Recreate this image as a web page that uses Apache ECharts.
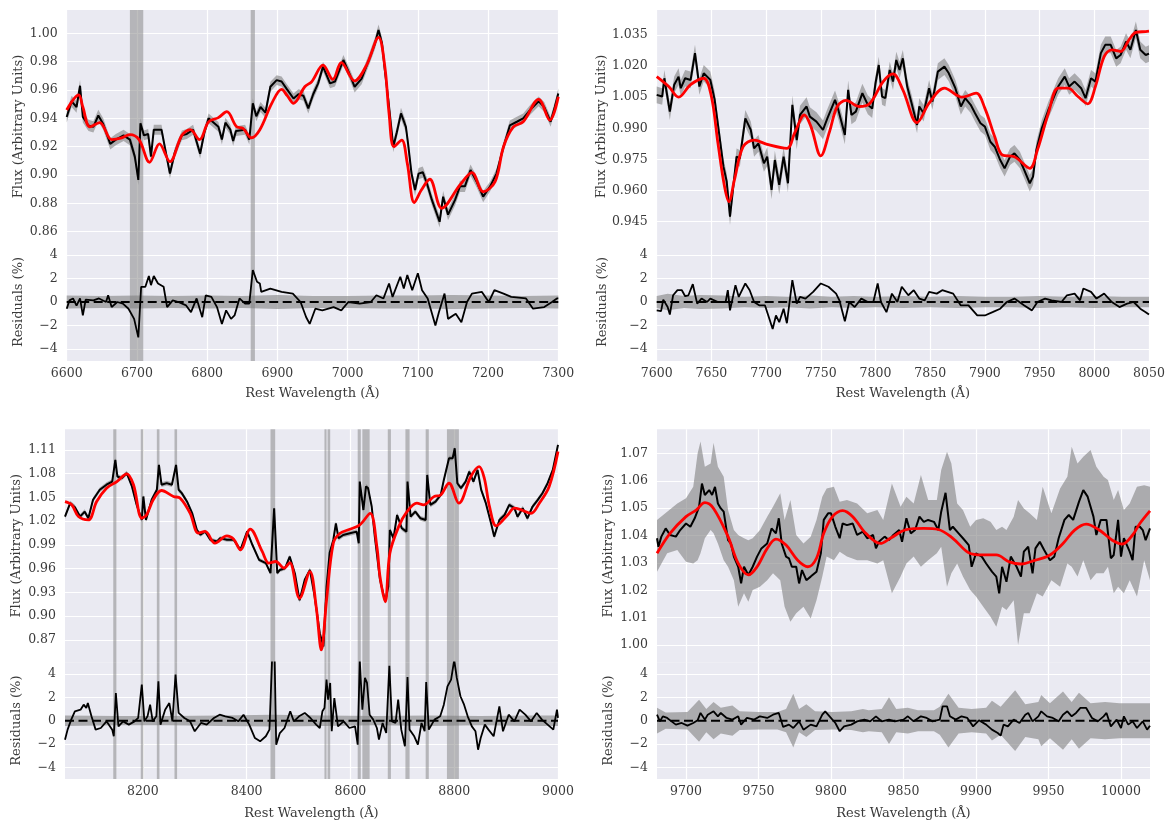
<!DOCTYPE html>
<html><head><meta charset="utf-8">
<script src="https://cdn.jsdelivr.net/npm/echarts@6/dist/echarts.min.js"></script>
<style>html,body{margin:0;padding:0;background:#fff;}#c{width:1174px;height:831px;}</style>
</head><body><div id="c"></div>
<script>
// ---------------- DATA ----------------
// Panel 1 (6600-7300)
const spec1 = [[6600,0.941],[6607,0.952],[6614,0.948],[6619,0.963],[6623,0.941],[6631,0.935],[6638,0.934],[6645,0.942],[6652,0.936],[6662,0.922],[6670,0.925],[6681,0.928],[6690,0.925],[6697,0.913],[6702,0.8965],[6705,0.9365],[6710,0.928],[6716,0.929],[6720,0.913],[6724,0.932],[6735,0.932],[6740,0.919],[6747,0.901],[6754,0.916],[6764,0.928],[6771,0.929],[6780,0.932],[6790,0.915],[6796,0.930],[6802,0.940],[6809,0.937],[6816,0.934],[6821,0.925],[6826,0.937],[6833,0.932],[6837,0.924],[6841,0.931],[6854,0.932],[6860,0.925],[6865,0.9506],[6870,0.9415],[6876,0.948],[6883,0.944],[6890,0.9623],[6899,0.967],[6906,0.966],[6913,0.961],[6923,0.954],[6930,0.957],[6937,0.956],[6944,0.947],[6951,0.957],[6958,0.9647],[6965,0.9765],[6975,0.9647],[6982,0.966],[6994,0.9812],[7003,0.971],[7010,0.9623],[7020,0.968],[7032,0.9835],[7039,0.993],[7044,1.0023],[7049,0.993],[7053,0.974],[7058,0.953],[7065,0.920],[7070,0.930],[7076,0.9435],[7083,0.934],[7086,0.9225],[7091,0.901],[7096,0.8894],[7101,0.901],[7107,0.902],[7113,0.894],[7120,0.8824],[7131,0.867],[7136,0.8847],[7143,0.872],[7153,0.8824],[7160,0.892],[7167,0.892],[7175,0.9035],[7184,0.895],[7193,0.8847],[7203,0.892],[7212,0.901],[7222,0.920],[7231,0.935],[7241,0.9376],[7250,0.940],[7260,0.946],[7272,0.952],[7280,0.948],[7289,0.9376],[7295,0.948],[7300,0.9576]];
const model1 = [[6600,0.9459],[6617,0.9565],[6623,0.948],[6633,0.934],[6647,0.937],[6664,0.925],[6677,0.926],[6690,0.9285],[6703,0.925],[6718,0.909],[6732,0.922],[6747,0.9095],[6764,0.928],[6776,0.932],[6789,0.925],[6802,0.9375],[6816,0.9405],[6828,0.9447],[6842,0.934],[6851,0.933],[6863,0.9263],[6875,0.932],[6892,0.9506],[6906,0.9605],[6914,0.956],[6923,0.9506],[6939,0.9623],[6949,0.966],[6965,0.9776],[6979,0.9675],[6991,0.9793],[7010,0.9665],[7027,0.9776],[7044,0.9972],[7053,0.9765],[7059,0.9435],[7066,0.920],[7077,0.9247],[7085,0.9082],[7095,0.8805],[7105,0.8894],[7117,0.897],[7134,0.8765],[7160,0.893],[7177,0.9017],[7193,0.8882],[7210,0.8953],[7222,0.920],[7236,0.934],[7250,0.9376],[7272,0.9534],[7288,0.9388],[7300,0.9553]];
const err1 = [[6600,0.004],[6700,0.0035],[6800,0.0035],[6900,0.0035],[7000,0.004],[7100,0.004],[7200,0.0035]];
const res1 = [[6600,-0.57],[6604,0.14],[6609,0.3],[6614,-0.3],[6619,0.3],[6623,-1.14],[6627,0.2],[6638,0.14],[6646,0.3],[6656,0],[6659,0.57],[6664,-0.43],[6672,0],[6680,-0.14],[6688,-0.57],[6696,-1.43],[6702,-3.0],[6706,1.29],[6712,1.29],[6717,2.2],[6720,1.43],[6724,2.2],[6730,1.57],[6738,1.29],[6743,-0.43],[6751,0.14],[6759,0],[6770,-0.29],[6777,-0.86],[6785,0.3],[6793,-1.29],[6798,0.57],[6806,0.43],[6814,-0.43],[6821,-1.86],[6827,-0.71],[6834,-1.43],[6839,-1.14],[6846,0.3],[6854,-0.14],[6860,-0.14],[6865,2.71],[6871,1.71],[6875,1.57],[6877,0.86],[6890,1.14],[6906,0.86],[6922,0.71],[6933,0],[6941,-1.29],[6946,-1.86],[6954,-0.57],[6964,-0.71],[6980,-0.43],[6991,-0.71],[7001,0],[7017,-0.14],[7033,0],[7041,0.57],[7051,0.3],[7059,1.57],[7064,0.43],[7075,2.14],[7080,1.14],[7085,2.29],[7092,1.0],[7100,2.43],[7106,1.0],[7114,0.3],[7125,-2.0],[7130,-0.86],[7138,0.71],[7143,-1.43],[7154,-1.0],[7162,-1.71],[7170,0],[7177,0.71],[7191,0.86],[7201,0],[7209,1.0],[7222,0.71],[7233,0.43],[7254,0.3],[7264,-0.57],[7280,-0.43],[7291,0],[7298,0.3],[7300,0.3]];
const resBand1 = [[6600,0.55],[6650,0.5],[6700,0.55],[6750,0.5],[6800,0.55],[6850,0.5],[6900,0.6],[6950,0.5],[7000,0.5],[7050,0.55],[7100,0.55],[7150,0.6],[7200,0.55],[7250,0.5],[7300,0.55]];
const mask1 = [[6690,6709],[6862,6868]];
const xTicks1 = [6600,6700,6800,6900,7000,7100,7200,7300];
const yTicks1 = [0.86,0.88,0.90,0.92,0.94,0.96,0.98,1.00];

// Panel 2 (7600-8050)
const spec2 = [[7600,1.0061],[7605,1.0053],[7607,1.0141],[7612,0.998],[7616,1.011],[7620,1.0149],[7622,1.0093],[7626,1.0141],[7631,1.0133],[7635,1.0262],[7639,1.0101],[7643,1.0165],[7649,1.0133],[7653,1.0037],[7657,0.9876],[7661,0.9715],[7664,0.9643],[7667,0.9474],[7670,0.9619],[7673,0.9763],[7676,0.9755],[7681,0.9948],[7686,0.9892],[7689,0.9803],[7693,0.9827],[7698,0.9731],[7701,0.9763],[7705,0.9603],[7708,0.9747],[7712,0.9627],[7716,0.9763],[7720,0.9635],[7724,1.0013],[7728,0.9843],[7731,0.9964],[7737,1.0005],[7740,0.9956],[7746,0.9932],[7752,0.9892],[7756,0.9948],[7763,1.0037],[7766,0.9989],[7772,0.9868],[7775,1.0085],[7778,0.9964],[7782,0.998],[7788,1.0069],[7793,1.0013],[7797,0.9995],[7800,1.0117],[7803,1.0205],[7806,1.0053],[7809,1.0045],[7813,1.0181],[7816,1.0125],[7819,1.0229],[7822,1.0181],[7825,1.0237],[7829,1.0101],[7833,1.0021],[7838,0.9916],[7840,1.0005],[7844,0.9972],[7849,1.0093],[7852,1.0029],[7857,1.0173],[7863,1.0197],[7867,1.0165],[7873,1.0093],[7878,1.0005],[7882,1.0045],[7887,1.0013],[7891,0.9972],[7896,0.9924],[7900,0.9908],[7905,0.9835],[7909,0.9811],[7914,0.9747],[7918,0.9707],[7923,0.9763],[7927,0.9779],[7932,0.9747],[7936,0.9698],[7941,0.9635],[7944,0.9667],[7947,0.9795],[7952,0.99],[7958,0.9988],[7962,1.0037],[7967,1.0101],[7973,1.0149],[7977,1.0101],[7982,1.0125],[7988,1.0093],[7992,1.0045],[7997,1.0141],[8001,1.0125],[8006,1.0262],[8010,1.0302],[8015,1.0302],[8020,1.0237],[8024,1.0253],[8029,1.0318],[8033,1.0278],[8038,1.0374],[8042,1.0278],[8047,1.0253],[8050,1.026]];
const model2 = [[7600,1.0149],[7611,1.0101],[7620,1.005],[7631,1.011],[7643,1.0141],[7650,1.0053],[7656,0.9827],[7662,0.9619],[7666,0.9546],[7671,0.965],[7679,0.9811],[7689,0.9843],[7701,0.9822],[7719,0.9803],[7726,0.9876],[7735,0.9964],[7741,0.9908],[7750,0.9767],[7758,0.9884],[7765,1.0005],[7773,1.0034],[7785,1.0005],[7795,1.0021],[7807,1.0125],[7816,1.0162],[7825,1.0085],[7838,0.9927],[7849,1.0021],[7863,1.0093],[7879,1.005],[7892,1.0069],[7900,0.9996],[7909,0.9859],[7916,0.9771],[7927,0.9763],[7941,0.9707],[7948,0.9795],[7958,0.9972],[7967,1.0093],[7976,1.0093],[7985,1.0053],[7994,1.0018],[8001,1.0101],[8009,1.0245],[8016,1.0278],[8024,1.027],[8032,1.0329],[8038,1.0362],[8047,1.0366],[8050,1.0368]];
const err2 = [[7600,0.004],[7700,0.0045],[7800,0.004],[7900,0.004],[8000,0.004]];
const res2 = [[7600,-0.71],[7604,-0.77],[7606,0.2],[7610,-0.43],[7612,-1.06],[7615,0.57],[7619,1.0],[7623,1.0],[7626,0.49],[7629,0.57],[7633,1.51],[7637,-0.14],[7641,0.29],[7646,0],[7649,0.29],[7656,0],[7663,0],[7665,1.0],[7667,-0.71],[7672,1.43],[7675,0.43],[7681,1.57],[7685,1.0],[7689,0],[7694,-0.29],[7699,-0.29],[7702,-1.14],[7706,-2.29],[7709,-1.14],[7712,-1.71],[7716,-0.57],[7719,-1.8],[7724,1.86],[7728,-0.14],[7731,0.43],[7736,0.29],[7743,0.86],[7750,1.57],[7757,1.29],[7764,0.71],[7767,0.14],[7772,-1.63],[7776,0],[7781,-0.43],[7787,0.29],[7793,0],[7798,0],[7802,1.57],[7805,0],[7810,-0.86],[7815,0.71],[7820,0],[7824,1.29],[7830,0.57],[7835,1.0],[7840,0.29],[7845,0.14],[7849,0.86],[7856,0.71],[7861,1.0],[7866,0.86],[7871,0.71],[7878,-0.29],[7885,-0.29],[7893,-1.14],[7900,-1.14],[7907,-0.86],[7914,-0.57],[7920,0],[7927,0.29],[7936,-0.29],[7943,-0.71],[7948,0],[7955,0.29],[7961,0.14],[7970,0],[7975,0.57],[7982,0.71],[7987,0.14],[7990,1.14],[7997,0.86],[8002,0.29],[8009,0.71],[8016,0],[8023,-0.43],[8030,-0.14],[8036,0],[8042,-0.57],[8047,-0.86],[8050,-1.06]];
const resBand2 = [[7600,0.5],[7610,0.7],[7625,0.5],[7640,0.6],[7660,0.55],[7680,0.45],[7700,0.5],[7720,0.45],[7740,0.55],[7760,0.45],[7780,0.5],[7800,0.45],[7825,0.5],[7850,0.45],[7875,0.5],[7900,0.45],[7925,0.45],[7950,0.5],[7975,0.45],[8000,0.5],[8025,0.45],[8050,0.45]];
const xTicks2 = [7600,7650,7700,7750,7800,7850,7900,7950,8000,8050];
const yTicks2 = [0.945,0.960,0.975,0.990,1.005,1.020,1.035];

// Panel 3 (8050-9000)
const spec3 = [[8050,1.0258],[8060,1.0427],[8069,1.0377],[8079,1.0258],[8088,1.032],[8095,1.0237],[8104,1.047],[8117,1.0596],[8130,1.066],[8141,1.07],[8147,1.0974],[8151,1.0764],[8159,1.0743],[8169,1.0806],[8179,1.0638],[8188,1.0407],[8198,1.0216],[8201,1.0512],[8206,1.0216],[8217,1.047],[8227,1.0596],[8231,1.091],[8236,1.066],[8246,1.068],[8256,1.066],[8264,1.091],[8269,1.0596],[8275,1.0554],[8285,1.0449],[8295,1.0302],[8304,1.0091],[8311,1.0028],[8320,1.007],[8330,0.9965],[8343,0.9944],[8349,0.9986],[8362,0.9965],[8375,0.9965],[8388,0.9839],[8401,1.007],[8411,0.9902],[8424,0.9712],[8437,0.967],[8446,0.9544],[8453,1.0364],[8459,0.9544],[8464,0.9584],[8474,0.9605],[8483,0.9752],[8493,0.954],[8502,0.920],[8512,0.946],[8522,0.9584],[8531,0.925],[8541,0.8785],[8548,0.8617],[8554,0.9373],[8560,0.98],[8567,0.9963],[8572,1.0173],[8577,0.9984],[8586,1.0026],[8599,1.0047],[8612,1.0068],[8616,0.9921],[8618,1.07],[8625,1.0341],[8630,1.0638],[8634,1.0617],[8641,1.0385],[8647,1.0005],[8657,0.946],[8667,0.9184],[8673,0.9373],[8676,1.0089],[8683,0.9984],[8690,1.0278],[8699,1.011],[8708,1.0068],[8710,1.07],[8716,1.0257],[8725,1.032],[8735,1.0236],[8745,1.0215],[8748,1.0784],[8754,1.0405],[8764,1.0447],[8774,1.0531],[8780,1.0721],[8790,1.0995],[8797,1.0995],[8801,1.1121],[8806,1.0679],[8813,1.0617],[8822,1.07],[8829,1.0826],[8837,1.07],[8845,1.0847],[8852,1.0596],[8861,1.0427],[8871,1.0173],[8877,1.0005],[8887,1.0215],[8897,1.0278],[8906,1.0405],[8916,1.0364],[8922,1.0257],[8932,1.0364],[8941,1.0236],[8951,1.0385],[8961,1.0468],[8970,1.0552],[8980,1.0679],[8990,1.0847],[8996,1.1036],[9000,1.1163]];
const model3 = [[8050,1.0448],[8063,1.0407],[8076,1.0258],[8095,1.0216],[8111,1.0448],[8130,1.0617],[8150,1.07],[8169,1.0798],[8182,1.066],[8198,1.0237],[8207,1.0279],[8220,1.047],[8236,1.0587],[8259,1.0512],[8272,1.049],[8291,1.0302],[8307,1.0049],[8320,1.007],[8339,0.9923],[8362,1.0015],[8375,0.9973],[8388,0.9839],[8407,1.01],[8430,0.9818],[8443,0.967],[8456,0.9691],[8472,0.9607],[8483,0.9676],[8502,0.9226],[8522,0.9563],[8534,0.9121],[8544,0.8574],[8554,0.9205],[8567,0.9921],[8580,1.0047],[8599,1.0098],[8618,1.0152],[8638,1.0299],[8651,0.9879],[8657,0.95],[8667,0.9184],[8676,0.9795],[8693,1.0131],[8709,1.032],[8728,1.0427],[8741,1.0405],[8761,1.051],[8774,1.0531],[8790,1.0679],[8809,1.0427],[8832,1.0764],[8848,1.0889],[8858,1.0742],[8868,1.0385],[8881,1.014],[8903,1.0278],[8916,1.0364],[8929,1.0343],[8948,1.0299],[8964,1.0427],[8983,1.0638],[9000,1.108]];
const err3 = [[8050,0.003],[8300,0.0025],[8500,0.003],[8700,0.003],[8900,0.003]];
const res3 = [[8050,-1.63],[8055,-0.77],[8062,0.09],[8069,0.8],[8080,0.94],[8086,1.37],[8091,1.09],[8094,1.51],[8101,0.37],[8109,-0.77],[8119,-0.63],[8130,-0.06],[8141,-0.77],[8144,-1.34],[8148,2.37],[8153,-0.49],[8162,-0.06],[8173,-0.34],[8184,-0.06],[8191,0.23],[8198,3.09],[8203,-0.06],[8209,0.37],[8214,1.37],[8219,-0.06],[8226,0.37],[8230,3.37],[8234,-0.34],[8243,0.94],[8251,1.51],[8257,-0.06],[8263,3.94],[8269,0.66],[8280,0.23],[8291,-0.06],[8300,-0.91],[8312,-0.2],[8323,-0.34],[8337,0.23],[8348,0.51],[8359,0.37],[8373,0.23],[8384,-0.06],[8394,0.51],[8405,-0.34],[8416,-1.49],[8426,-1.77],[8437,-1.34],[8444,-0.77],[8449,5.2],[8454,5.2],[8457,-2.06],[8464,-1.06],[8473,-0.63],[8484,0.8],[8491,-0.06],[8501,0.37],[8512,0.66],[8523,0.23],[8534,-0.34],[8541,-0.63],[8546,0.8],[8550,1.09],[8554,3.51],[8557,1.8],[8561,3.23],[8564,-0.91],[8569,1.94],[8576,-0.49],[8587,-0.06],[8598,-0.63],[8609,-0.49],[8614,-2.06],[8618,5.2],[8623,0.94],[8628,3.66],[8632,3.23],[8637,0.51],[8644,0.09],[8651,-0.63],[8655,-1.63],[8662,-0.2],[8669,-1.06],[8675,4.71],[8680,-0.06],[8687,-0.2],[8692,1.8],[8698,-0.77],[8705,-2.2],[8710,3.74],[8714,-0.77],[8723,-1.34],[8730,-2.06],[8737,-0.2],[8743,-0.91],[8746,3.31],[8751,-0.77],[8762,0.09],[8773,0.37],[8780,1.37],[8787,2.94],[8794,3.51],[8800,5.2],[8805,3.66],[8812,2.09],[8819,1.37],[8826,0.37],[8834,-0.49],[8841,-0.91],[8846,-2.49],[8851,-1.49],[8859,-0.34],[8866,-0.77],[8876,-1.34],[8887,1.23],[8894,-0.91],[8905,0.51],[8916,-0.06],[8926,0.94],[8937,0.51],[8948,-0.06],[8959,0.66],[8969,0.09],[8980,-0.34],[8991,-0.77],[8998,0.94],[9000,0.23]];
const resBand3 = [[8050,0.45],[8150,0.4],[8250,0.4],[8350,0.45],[8450,0.5],[8550,0.45],[8650,0.4],[8750,0.45],[8850,0.4],[8950,0.45],[9000,0.45]];
const mask3 = [[8143,8149],[8196,8201],[8227,8232],[8261,8266],[8446,8455],[8550,8554],[8556,8561],[8614,8620],[8623,8637],[8672,8678],[8706,8714],[8745,8751],[8786,8809]];
const xTicks3 = [8200,8400,8600,8800,9000];
const yTicks3 = [0.87,0.90,0.93,0.96,0.99,1.02,1.05,1.08,1.11];

// Panel 4 (9680-10020)
const spec4 = [[9680,1.039],[9681,1.0359],[9683,1.0396],[9686,1.0426],[9689,1.0402],[9693,1.0396],[9696,1.042],[9700,1.0444],[9703,1.0432],[9706,1.0463],[9709,1.0505],[9711,1.059],[9713,1.0548],[9716,1.0566],[9718,1.0548],[9720,1.0578],[9722,1.0517],[9724,1.0499],[9726,1.0487],[9729,1.0383],[9731,1.0371],[9733,1.0323],[9736,1.0286],[9738,1.0225],[9740,1.0286],[9743,1.0256],[9746,1.0286],[9749,1.0323],[9752,1.0353],[9756,1.0371],[9759,1.0426],[9762,1.0408],[9764,1.0463],[9766,1.0371],[9769,1.0323],[9771,1.0317],[9773,1.0286],[9776,1.0286],[9778,1.0225],[9780,1.0274],[9783,1.0237],[9786,1.025],[9790,1.0268],[9793,1.0335],[9795,1.0457],[9798,1.0481],[9800,1.0481],[9803,1.0432],[9806,1.039],[9808,1.0444],[9811,1.0438],[9815,1.0444],[9818,1.0402],[9822,1.0414],[9825,1.039],[9829,1.0402],[9831,1.0353],[9833,1.0377],[9837,1.0396],[9840,1.0383],[9843,1.0402],[9847,1.042],[9849,1.0377],[9852,1.0463],[9855,1.0408],[9858,1.042],[9861,1.0469],[9864,1.045],[9867,1.0457],[9871,1.045],[9874,1.042],[9876,1.0487],[9879,1.0556],[9882,1.042],[9884,1.0432],[9888,1.0408],[9891,1.039],[9895,1.0365],[9897,1.0286],[9900,1.0335],[9904,1.0323],[9907,1.0298],[9911,1.0268],[9914,1.025],[9916,1.0189],[9918,1.0286],[9921,1.0231],[9924,1.0323],[9928,1.0286],[9931,1.025],[9933,1.0341],[9936,1.0359],[9939,1.0262],[9941,1.0353],[9944,1.0377],[9947,1.0347],[9951,1.031],[9954,1.0323],[9957,1.039],[9961,1.0457],[9964,1.0475],[9967,1.0457],[9971,1.0523],[9974,1.0566],[9977,1.0542],[9981,1.0469],[9983,1.0402],[9986,1.0457],[9990,1.0457],[9993,1.0317],[9995,1.0329],[9998,1.0457],[10000,1.0323],[10002,1.039],[10006,1.0341],[10008,1.031],[10010,1.0432],[10013,1.0432],[10015,1.042],[10017,1.0383],[10020,1.0426]];
const model4 = [[9680,1.0335],[9689,1.0408],[9700,1.0469],[9707,1.0493],[9713,1.052],[9719,1.0499],[9729,1.0396],[9736,1.0298],[9743,1.0256],[9749,1.0286],[9756,1.0353],[9762,1.0387],[9769,1.0365],[9777,1.031],[9784,1.0286],[9790,1.0317],[9795,1.0408],[9801,1.0469],[9808,1.0491],[9815,1.0469],[9824,1.0408],[9834,1.0371],[9841,1.039],[9852,1.0422],[9864,1.0426],[9874,1.0422],[9884,1.039],[9895,1.0337],[9904,1.0329],[9914,1.0329],[9923,1.0304],[9931,1.0296],[9941,1.031],[9951,1.0329],[9960,1.0371],[9968,1.042],[9976,1.0442],[9985,1.042],[9994,1.0383],[10001,1.0369],[10008,1.0402],[10013,1.0444],[10020,1.049]];
const band4Wl = [9680,9687,9694,9700,9705,9708,9710,9713,9717,9719,9722,9726,9729,9733,9736,9740,9743,9746,9751,9756,9760,9765,9768,9772,9776,9781,9786,9790,9794,9797,9802,9806,9811,9818,9825,9832,9836,9842,9848,9852,9857,9862,9867,9873,9876,9880,9883,9887,9891,9896,9900,9905,9910,9914,9918,9921,9926,9929,9933,9937,9942,9946,9952,9958,9963,9966,9970,9974,9979,9983,9988,9991,9995,9998,10002,10006,10011,10016,10020];
const band4Hi = [1.0457,1.0487,1.0517,1.0536,1.0578,1.07,1.0743,1.0651,1.0663,1.0739,1.0651,1.0615,1.0493,1.042,1.0402,1.039,1.0383,1.039,1.042,1.0469,1.0505,1.0554,1.0457,1.053,1.0402,1.0371,1.0396,1.0457,1.0542,1.0572,1.0578,1.0523,1.053,1.0517,1.0481,1.0493,1.0457,1.059,1.0505,1.0542,1.0517,1.0621,1.053,1.053,1.0639,1.0706,1.0663,1.0517,1.0493,1.0432,1.0457,1.0463,1.045,1.042,1.0432,1.042,1.0469,1.053,1.0499,1.0481,1.0457,1.0578,1.0481,1.0572,1.0615,1.0724,1.0663,1.0688,1.0712,1.0651,1.0615,1.0603,1.053,1.0566,1.0493,1.0517,1.0578,1.0584,1.0578];
const band4Lo = [1.0268,1.0335,1.0347,1.0304,1.0298,1.031,1.0335,1.039,1.042,1.0408,1.0371,1.031,1.0286,1.0237,1.014,1.0189,1.0158,1.0201,1.0213,1.0237,1.0262,1.0237,1.014,1.0085,1.0116,1.014,1.0097,1.0164,1.025,1.0323,1.031,1.0341,1.0323,1.031,1.031,1.0298,1.031,1.0189,1.025,1.0298,1.0323,1.0286,1.031,1.0335,1.0359,1.0213,1.0262,1.0298,1.025,1.0201,1.0177,1.014,1.0103,1.0067,1.014,1.0128,1.0164,1.0,1.0116,1.0116,1.0189,1.0177,1.0237,1.0213,1.0298,1.0286,1.025,1.031,1.0237,1.0262,1.0262,1.0286,1.0189,1.0213,1.0189,1.0237,1.0177,1.031,1.0237];
const res4 = [[9680,0.51],[9682,-0.06],[9684,0.37],[9687,0.23],[9690,-0.06],[9693,-0.34],[9697,-0.2],[9701,-0.43],[9705,-0.2],[9708,0.03],[9710,0.66],[9713,0.09],[9715,0.51],[9719,0.8],[9722,0.37],[9724,0.66],[9728,0.23],[9732,0.09],[9736,0.37],[9738,-0.34],[9742,0.23],[9747,0.09],[9751,0.37],[9756,0.23],[9760,0.51],[9764,0.66],[9767,-0.54],[9771,-0.34],[9774,-0.63],[9778,-0.06],[9781,-0.77],[9786,-0.34],[9790,-0.49],[9794,0.51],[9796,0.8],[9799,0.37],[9803,-0.2],[9806,-0.91],[9809,-0.49],[9814,-0.34],[9818,-0.06],[9823,0.09],[9827,-0.06],[9831,0.37],[9835,-0.06],[9840,0.09],[9844,-0.06],[9850,0.09],[9853,0.37],[9857,-0.06],[9862,0.37],[9866,0.23],[9870,-0.06],[9875,0.09],[9877,1.23],[9880,1.23],[9882,0.37],[9886,0.09],[9890,0.37],[9894,0.23],[9898,-0.49],[9902,0.03],[9907,-0.34],[9911,-0.77],[9915,-1.06],[9917,-1.29],[9919,-0.34],[9922,-0.49],[9926,0.09],[9930,-0.2],[9934,0.51],[9936,0.66],[9939,-0.06],[9943,0.37],[9945,0.8],[9949,0.37],[9953,0.23],[9957,-0.06],[9960,0.51],[9963,0.8],[9966,0.37],[9969,0.66],[9972,1.09],[9976,1.09],[9980,0.23],[9984,-0.06],[9988,0.37],[9990,0.66],[9993,-0.49],[9997,0.09],[10000,-0.63],[10002,0.37],[10005,-0.34],[10008,-0.06],[10011,-0.63],[10015,-0.06],[10018,-0.77],[10020,-0.43]];
const resBand4 = [[9680,1.1],[9686,0.7],[9701,0.75],[9709,1.8],[9714,1.0],[9719,1.6],[9724,1.1],[9732,1.3],[9737,0.8],[9750,0.75],[9763,0.75],[9769,1.0],[9774,2.3],[9778,1.0],[9783,1.4],[9789,0.8],[9801,0.75],[9814,0.8],[9822,1.0],[9826,0.9],[9835,1.0],[9840,2.0],[9845,1.0],[9853,1.1],[9860,0.9],[9871,0.9],[9875,1.2],[9881,2.3],[9888,1.1],[9897,1.0],[9907,1.1],[9911,1.7],[9917,1.2],[9927,2.6],[9934,1.4],[9943,1.6],[9945,2.2],[9951,1.5],[9960,2.5],[9966,1.6],[9971,2.4],[9979,1.5],[9989,1.6],[9999,1.5],[10010,1.5],[10020,1.5]];
const xTicks4 = [9700,9750,9800,9850,9900,9950,10000];
const yTicks4 = [1.00,1.01,1.02,1.03,1.04,1.05,1.06,1.07];

const resTicks = [-4,-2,0,2,4];

// ---------------- STYLE / LAYOUT ----------------
const FONT = 'DejaVu Serif';
const TXT = '#3a3a3a';
const BG = '#EAEAF2';
const MASK_COL = 'rgba(128,128,128,0.5)';
const BAND_COL = 'rgba(128,128,128,0.6)';

const gridPos = [
  {left:66.7, top:10, width:491.6, height:233},
  {left:66.7, top:243, width:491.6, height:118},
  {left:656.7, top:10, width:492.3, height:233},
  {left:656.7, top:243, width:492.3, height:118},
  {left:65, top:429.3, width:493, height:233},
  {left:65, top:662.3, width:493, height:116.7},
  {left:657, top:429.3, width:493, height:233},
  {left:657, top:662.3, width:493, height:116.7}
];

const panels = [
  {xMin:6600, xMax:7300, xTicks:xTicks1, yMin:0.852, yMax:1.0165, yTicks:yTicks1, dec:2, spec:spec1, model:model1, err:err1, res:res1, resBand:resBand1, masks:mask1, nameGap:42, xNameGap:26},
  {xMin:7600, xMax:8050, xTicks:xTicks2, yMin:0.9347, yMax:1.047, yTicks:yTicks2, dec:3, spec:spec2, model:model2, err:err2, res:res2, resBand:resBand2, masks:[], nameGap:48, xNameGap:26},
  {xMin:8050, xMax:9000, xTicks:xTicks3, yMin:0.8418, yMax:1.136, yTicks:yTicks3, dec:2, spec:spec3, model:model3, err:err3, res:res3, resBand:resBand3, masks:mask3, nameGap:42, xNameGap:28},
  {xMin:9680, xMax:10020, xTicks:xTicks4, yMin:0.9937, yMax:1.0788, yTicks:yTicks4, dec:2, spec:spec4, model:model4, err:null, res:res4, resBand:resBand4, masks:[], nameGap:42, xNameGap:28}
];

function stepErr(knots, x) {
  let v = knots[0][1];
  for (const k of knots) { if (x >= k[0]) v = k[1]; }
  return v;
}

const grids = [], xAxes = [], yAxes = [], series = [];
gridPos.forEach(g => grids.push(Object.assign({show:true, backgroundColor:BG, borderWidth:0, containLabel:false, outerBoundsMode:'none'}, g)));

const axisText = {fontFamily:FONT, fontSize:12.5, color:TXT};
const nameText = {fontFamily:FONT, fontSize:13, color:TXT};

function polySeries(gi, upper, lower, color, z) {
  return {
    type:'custom', xAxisIndex:gi, yAxisIndex:gi, z:z, silent:true, clip:true,
    data:[[upper[0][0], upper[0][1]]],
    renderItem:function(params, api){
      const pts = upper.map(p => api.coord(p)).concat(lower.slice().reverse().map(p => api.coord(p)));
      return {type:'polygon', shape:{points:pts}, style:{fill:color}};
    }
  };
}
function maskSeries(gi, masks, yMin, yMax) {
  return {
    type:'custom', xAxisIndex:gi, yAxisIndex:gi, z:1, silent:true,
    data:masks.map(m => [m[0], m[1]]),
    renderItem:function(params, api){
      const p0 = api.coord([api.value(0), yMax]);
      const p1 = api.coord([api.value(1), yMin]);
      return {type:'rect', shape:{x:p0[0], y:p0[1], width:p1[0]-p0[0], height:p1[1]-p0[1]}, style:{fill:MASK_COL}};
    }
  };
}
function lineSeries(gi, data, color, width, z, extra) {
  return Object.assign({type:'line', xAxisIndex:gi, yAxisIndex:gi, data:data, showSymbol:false, symbol:'none', silent:true, z:z,
    lineStyle:{color:color, width:width}}, extra || {});
}

panels.forEach((p, i) => {
  const gf = 2*i, gr = 2*i+1;
  const splitLine = {show:true, lineStyle:{color:'#ffffff', width:1.2}};
  xAxes.push({type:'value', gridIndex:gf, min:p.xMin, max:p.xMax, axisLine:{show:false}, axisTick:{show:false, customValues:p.xTicks},
    axisLabel:{show:false, customValues:p.xTicks}, splitLine:splitLine});
  xAxes.push({type:'value', gridIndex:gr, min:p.xMin, max:p.xMax, axisLine:{show:false}, axisTick:{show:false, customValues:p.xTicks},
    axisLabel:Object.assign({show:true, customValues:p.xTicks, margin:6, formatter:(v)=>String(Math.round(v))}, axisText), splitLine:splitLine,
    name:'Rest Wavelength (Å)', nameLocation:'middle', nameGap:p.xNameGap, nameTextStyle:nameText});
  yAxes.push({type:'value', gridIndex:gf, min:p.yMin, max:p.yMax, axisLine:{show:false}, axisTick:{show:false, customValues:p.yTicks},
    axisLabel:Object.assign({show:true, customValues:p.yTicks, margin:9, formatter:(v)=>Number(v).toFixed(p.dec)}, axisText),
    splitLine:splitLine, name:'Flux (Arbitrary Units)', nameLocation:'middle', nameGap:p.nameGap, nameRotate:90, nameTextStyle:nameText});
  yAxes.push({type:'value', gridIndex:gr, min:-5, max:5, axisLine:{show:false}, axisTick:{show:false, customValues:resTicks},
    axisLabel:Object.assign({show:true, customValues:resTicks, margin:9, formatter:(v)=> v < 0 ? '\u2212' + Math.abs(v) : String(v)}, axisText),
    splitLine:splitLine, name:'Residuals (%)', nameLocation:'middle', nameGap:p.nameGap, nameRotate:90, nameTextStyle:nameText});

  if (p.masks.length) {
    series.push(maskSeries(gf, p.masks, p.yMin, p.yMax));
    series.push(maskSeries(gr, p.masks, -5, 5));
  }
  let up, lo;
  if (p.err) {
    up = p.spec.map(d => [d[0], d[1] + stepErr(p.err, d[0])]);
    lo = p.spec.map(d => [d[0], d[1] - stepErr(p.err, d[0])]);
  } else {
    up = band4Wl.map((w, k) => [w, band4Hi[k]]);
    lo = band4Wl.map((w, k) => [w, band4Lo[k]]);
  }
  series.push(polySeries(gf, up, lo, BAND_COL, 2));
  series.push(lineSeries(gf, p.spec, '#000000', 2, 3));
  series.push(lineSeries(gf, p.model, '#ff0000', 2.8, 4, {smooth:0.35}));
  const rUp = p.resBand.map(d => [d[0], d[1]]);
  const rLo = p.resBand.map(d => [d[0], -d[1]]);
  series.push(polySeries(gr, rUp, rLo, BAND_COL, 2));
  series.push(lineSeries(gr, [[p.xMin, 0], [p.xMax, 0]], '#000000', 2, 3, {lineStyle:{color:'#000', width:2, type:[9,4.5]}}));
  series.push(lineSeries(gr, p.res, '#000000', 1.8, 4));
});

const chart = echarts.init(document.getElementById('c'), null, {renderer:'canvas'});
chart.setOption({
  animation:false,
  backgroundColor:'#ffffff',
  grid:grids, xAxis:xAxes, yAxis:yAxes, series:series
});
</script></body></html>
